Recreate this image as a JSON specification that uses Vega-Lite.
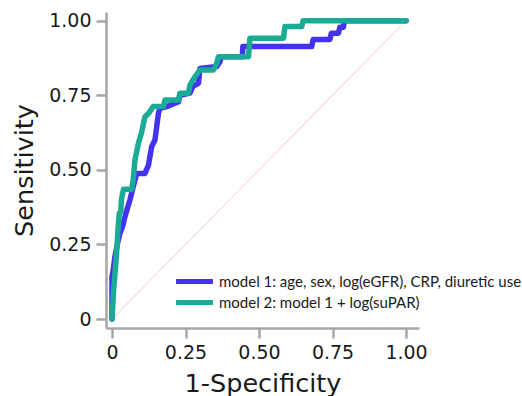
{
  "$schema": "https://vega.github.io/schema/vega-lite/v6.json",
  "autosize": {"type": "none"},
  "padding": {"left": 106, "top": 12, "right": 103, "bottom": 68},
  "width": 313,
  "height": 316,
  "background": "white",
  "config": {
    "view": {"stroke": null},
    "axis": {
      "grid": false,
      "domainColor": "#a6a6a6",
      "domainWidth": 2.5,
      "tickColor": "#a6a6a6",
      "tickWidth": 2.5,
      "tickSize": 10,
      "labelFont": "DejaVu Sans",
      "labelFontSize": 19,
      "labelColor": "#1a1a1a",
      "labelPadding": 5,
      "titleFont": "DejaVu Sans",
      "titleFontSize": 25.5,
      "titleFontWeight": "normal",
      "titleColor": "#1a1a1a"
    }
  },
  "datasets": {
    "diag": [{"fpr": 0, "tpr": 0}, {"fpr": 1, "tpr": 1}],
    "roc": [
      {"model": "model 1: age, sex, log(eGFR), CRP, diuretic use", "fpr": 0, "tpr": 0},
      {"model": "model 1: age, sex, log(eGFR), CRP, diuretic use", "fpr": 0, "tpr": 0.142},
      {"model": "model 1: age, sex, log(eGFR), CRP, diuretic use", "fpr": 0.005, "tpr": 0.17},
      {"model": "model 1: age, sex, log(eGFR), CRP, diuretic use", "fpr": 0.01, "tpr": 0.209},
      {"model": "model 1: age, sex, log(eGFR), CRP, diuretic use", "fpr": 0.018, "tpr": 0.25},
      {"model": "model 1: age, sex, log(eGFR), CRP, diuretic use", "fpr": 0.027, "tpr": 0.287},
      {"model": "model 1: age, sex, log(eGFR), CRP, diuretic use", "fpr": 0.036, "tpr": 0.31},
      {"model": "model 1: age, sex, log(eGFR), CRP, diuretic use", "fpr": 0.044, "tpr": 0.343},
      {"model": "model 1: age, sex, log(eGFR), CRP, diuretic use", "fpr": 0.052, "tpr": 0.37},
      {"model": "model 1: age, sex, log(eGFR), CRP, diuretic use", "fpr": 0.061, "tpr": 0.399},
      {"model": "model 1: age, sex, log(eGFR), CRP, diuretic use", "fpr": 0.072, "tpr": 0.443},
      {"model": "model 1: age, sex, log(eGFR), CRP, diuretic use", "fpr": 0.084, "tpr": 0.488},
      {"model": "model 1: age, sex, log(eGFR), CRP, diuretic use", "fpr": 0.112, "tpr": 0.488},
      {"model": "model 1: age, sex, log(eGFR), CRP, diuretic use", "fpr": 0.124, "tpr": 0.516},
      {"model": "model 1: age, sex, log(eGFR), CRP, diuretic use", "fpr": 0.135, "tpr": 0.578},
      {"model": "model 1: age, sex, log(eGFR), CRP, diuretic use", "fpr": 0.146, "tpr": 0.6},
      {"model": "model 1: age, sex, log(eGFR), CRP, diuretic use", "fpr": 0.152, "tpr": 0.645},
      {"model": "model 1: age, sex, log(eGFR), CRP, diuretic use", "fpr": 0.158, "tpr": 0.69},
      {"model": "model 1: age, sex, log(eGFR), CRP, diuretic use", "fpr": 0.163, "tpr": 0.706},
      {"model": "model 1: age, sex, log(eGFR), CRP, diuretic use", "fpr": 0.186, "tpr": 0.712},
      {"model": "model 1: age, sex, log(eGFR), CRP, diuretic use", "fpr": 0.226, "tpr": 0.728},
      {"model": "model 1: age, sex, log(eGFR), CRP, diuretic use", "fpr": 0.231, "tpr": 0.75},
      {"model": "model 1: age, sex, log(eGFR), CRP, diuretic use", "fpr": 0.265, "tpr": 0.757},
      {"model": "model 1: age, sex, log(eGFR), CRP, diuretic use", "fpr": 0.275, "tpr": 0.78},
      {"model": "model 1: age, sex, log(eGFR), CRP, diuretic use", "fpr": 0.294, "tpr": 0.79},
      {"model": "model 1: age, sex, log(eGFR), CRP, diuretic use", "fpr": 0.299, "tpr": 0.84},
      {"model": "model 1: age, sex, log(eGFR), CRP, diuretic use", "fpr": 0.356, "tpr": 0.846},
      {"model": "model 1: age, sex, log(eGFR), CRP, diuretic use", "fpr": 0.367, "tpr": 0.862},
      {"model": "model 1: age, sex, log(eGFR), CRP, diuretic use", "fpr": 0.372, "tpr": 0.879},
      {"model": "model 1: age, sex, log(eGFR), CRP, diuretic use", "fpr": 0.443, "tpr": 0.879},
      {"model": "model 1: age, sex, log(eGFR), CRP, diuretic use", "fpr": 0.445, "tpr": 0.913},
      {"model": "model 1: age, sex, log(eGFR), CRP, diuretic use", "fpr": 0.679, "tpr": 0.913},
      {"model": "model 1: age, sex, log(eGFR), CRP, diuretic use", "fpr": 0.684, "tpr": 0.937},
      {"model": "model 1: age, sex, log(eGFR), CRP, diuretic use", "fpr": 0.741, "tpr": 0.937},
      {"model": "model 1: age, sex, log(eGFR), CRP, diuretic use", "fpr": 0.746, "tpr": 0.958},
      {"model": "model 1: age, sex, log(eGFR), CRP, diuretic use", "fpr": 0.77, "tpr": 0.958},
      {"model": "model 1: age, sex, log(eGFR), CRP, diuretic use", "fpr": 0.775, "tpr": 0.978},
      {"model": "model 1: age, sex, log(eGFR), CRP, diuretic use", "fpr": 0.787, "tpr": 0.978},
      {"model": "model 1: age, sex, log(eGFR), CRP, diuretic use", "fpr": 0.79, "tpr": 1.0},
      {"model": "model 1: age, sex, log(eGFR), CRP, diuretic use", "fpr": 1.0, "tpr": 1.0},
      {"model": "model 2: model 1 + log(suPAR)", "fpr": 0, "tpr": 0},
      {"model": "model 2: model 1 + log(suPAR)", "fpr": 0.003, "tpr": 0.05},
      {"model": "model 2: model 1 + log(suPAR)", "fpr": 0.005, "tpr": 0.09},
      {"model": "model 2: model 1 + log(suPAR)", "fpr": 0.01, "tpr": 0.15},
      {"model": "model 2: model 1 + log(suPAR)", "fpr": 0.014, "tpr": 0.2},
      {"model": "model 2: model 1 + log(suPAR)", "fpr": 0.018, "tpr": 0.26},
      {"model": "model 2: model 1 + log(suPAR)", "fpr": 0.021, "tpr": 0.31},
      {"model": "model 2: model 1 + log(suPAR)", "fpr": 0.025, "tpr": 0.355},
      {"model": "model 2: model 1 + log(suPAR)", "fpr": 0.03, "tpr": 0.36},
      {"model": "model 2: model 1 + log(suPAR)", "fpr": 0.032, "tpr": 0.4},
      {"model": "model 2: model 1 + log(suPAR)", "fpr": 0.039, "tpr": 0.435},
      {"model": "model 2: model 1 + log(suPAR)", "fpr": 0.067, "tpr": 0.435},
      {"model": "model 2: model 1 + log(suPAR)", "fpr": 0.072, "tpr": 0.466},
      {"model": "model 2: model 1 + log(suPAR)", "fpr": 0.078, "tpr": 0.533},
      {"model": "model 2: model 1 + log(suPAR)", "fpr": 0.09, "tpr": 0.59},
      {"model": "model 2: model 1 + log(suPAR)", "fpr": 0.1, "tpr": 0.623},
      {"model": "model 2: model 1 + log(suPAR)", "fpr": 0.112, "tpr": 0.678},
      {"model": "model 2: model 1 + log(suPAR)", "fpr": 0.125, "tpr": 0.69},
      {"model": "model 2: model 1 + log(suPAR)", "fpr": 0.14, "tpr": 0.712},
      {"model": "model 2: model 1 + log(suPAR)", "fpr": 0.175, "tpr": 0.712},
      {"model": "model 2: model 1 + log(suPAR)", "fpr": 0.18, "tpr": 0.734},
      {"model": "model 2: model 1 + log(suPAR)", "fpr": 0.226, "tpr": 0.734},
      {"model": "model 2: model 1 + log(suPAR)", "fpr": 0.231, "tpr": 0.757},
      {"model": "model 2: model 1 + log(suPAR)", "fpr": 0.26, "tpr": 0.757},
      {"model": "model 2: model 1 + log(suPAR)", "fpr": 0.265, "tpr": 0.784},
      {"model": "model 2: model 1 + log(suPAR)", "fpr": 0.282, "tpr": 0.812},
      {"model": "model 2: model 1 + log(suPAR)", "fpr": 0.299, "tpr": 0.835},
      {"model": "model 2: model 1 + log(suPAR)", "fpr": 0.345, "tpr": 0.835},
      {"model": "model 2: model 1 + log(suPAR)", "fpr": 0.356, "tpr": 0.857},
      {"model": "model 2: model 1 + log(suPAR)", "fpr": 0.362, "tpr": 0.879},
      {"model": "model 2: model 1 + log(suPAR)", "fpr": 0.464, "tpr": 0.879},
      {"model": "model 2: model 1 + log(suPAR)", "fpr": 0.469, "tpr": 0.941},
      {"model": "model 2: model 1 + log(suPAR)", "fpr": 0.583, "tpr": 0.941},
      {"model": "model 2: model 1 + log(suPAR)", "fpr": 0.588, "tpr": 0.98},
      {"model": "model 2: model 1 + log(suPAR)", "fpr": 0.645, "tpr": 0.98},
      {"model": "model 2: model 1 + log(suPAR)", "fpr": 0.65, "tpr": 1.0},
      {"model": "model 2: model 1 + log(suPAR)", "fpr": 1.0, "tpr": 1.0}
    ]
  },
  "layer": [
    {
      "data": {"name": "diag"},
      "mark": {"type": "line", "color": "#f7c4c4", "strokeWidth": 1},
      "encoding": {
        "x": {"field": "fpr", "type": "quantitative"},
        "y": {"field": "tpr", "type": "quantitative"}
      }
    },
    {
      "data": {"name": "roc"},
      "mark": {"type": "line", "strokeWidth": 5.5, "strokeCap": "round", "strokeJoin": "round"},
      "encoding": {
        "x": {
          "field": "fpr", "type": "quantitative",
          "scale": {"domain": [-0.0204, 1.044], "nice": false, "zero": false},
          "axis": {"values": [0, 0.25, 0.5, 0.75, 1], "labelExpr": "datum.value == 0 ? '0' : format(datum.value, '.2f')", "title": "1-Specificity", "titlePadding": 9}
        },
        "y": {
          "field": "tpr", "type": "quantitative",
          "scale": {"domain": [-0.03, 1.029], "nice": false, "zero": false},
          "axis": {"values": [0, 0.25, 0.5, 0.75, 1], "labelExpr": "datum.value == 0 ? '0' : format(datum.value, '.2f')", "title": "Sensitivity", "titlePadding": 11}
        },
        "color": {
          "field": "model", "type": "nominal",
          "scale": {"domain": ["model 1: age, sex, log(eGFR), CRP, diuretic use", "model 2: model 1 + log(suPAR)"], "range": ["#4433ee", "#1aab97"]},
          "legend": {
            "title": null,
            "orient": "none",
            "legendX": 81,
            "legendY": 262,
            "padding": 0,
            "symbolType": "M-4,0H4",
            "symbolSize": 85,
            "symbolStrokeWidth": 5,
            "labelOffset": 17,
            "labelFont": "Lato",
            "labelFontSize": 15,
            "labelColor": "#1a1a1a",
            "labelLimit": 400,
            "rowPadding": 0
          }
        }
      }
    }
  ]
}
